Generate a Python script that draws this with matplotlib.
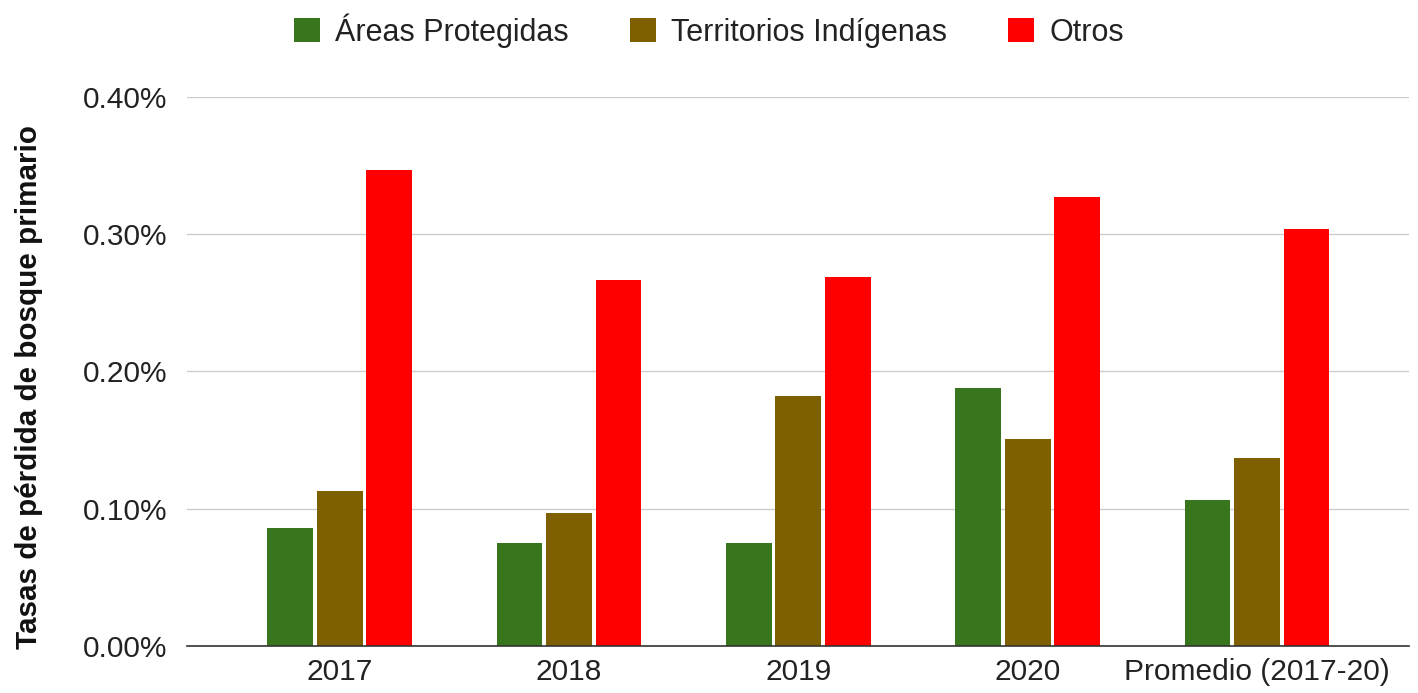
import numpy as np
import matplotlib.pyplot as plt
from matplotlib.ticker import FuncFormatter

plt.rcParams['font.family'] = ['Liberation Sans', 'DejaVu Sans']

# Datos (porcentaje de pérdida de bosque primario)
categorias = ["2017", "2018", "2019", "2020", "Promedio (2017-20)"]
areas_protegidas = [0.086, 0.075, 0.075, 0.188, 0.106]
territorios_indigenas = [0.113, 0.097, 0.182, 0.151, 0.137]
otros = [0.347, 0.267, 0.269, 0.327, 0.304]

series = [("Áreas Protegidas", areas_protegidas, "#38761d"),
          ("Territorios Indígenas", territorios_indigenas, "#7f6000"),
          ("Otros", otros, "#ff0000")]

fig = plt.figure(figsize=(14.18, 6.93), dpi=100)
ax = fig.add_axes([0.132, 0.068, 0.862, 0.792])

x = np.arange(len(categorias))
paso = 0.216
ancho = 0.2
for i, (nombre, vals, color) in enumerate(series):
    ax.bar(x + (i - 1) * paso, vals, ancho, color=color, label=nombre, zorder=3)

ax.set_xlim(-0.665, len(categorias) - 1 + 0.665)
ax.set_ylim(0, 0.40)
ax.set_yticks([0, 0.1, 0.2, 0.3, 0.4])
ax.yaxis.set_major_formatter(FuncFormatter(lambda v, p: f"{v:.2f}%"))
ax.set_xticks(x)
ax.set_xticklabels(categorias)
ax.tick_params(axis='both', length=0, labelsize=21.5, colors='#222222')
ax.tick_params(axis='y', pad=14)
ax.tick_params(axis='x', pad=9)

ax.grid(axis='y', color='#cccccc', linewidth=1, zorder=0)
for s in ['top', 'right', 'left']:
    ax.spines[s].set_visible(False)
ax.spines['bottom'].set_color('#333333')
ax.spines['bottom'].set_linewidth(1.2)
ax.spines['bottom'].set_zorder(4)

ax.set_ylabel("Tasas de pérdida de bosque primario", fontsize=21.3, fontweight='bold',
              color='#111111')
ax.yaxis.set_label_coords(-0.132 + 17 / 1418 / 0.862, (646 - 387) / 549)

fig.legend(loc='upper center', bbox_to_anchor=(0.5, 1.012), ncol=3, frameon=False,
           fontsize=22, handlelength=0.85, handleheight=0.85, columnspacing=2.0,
           handletextpad=0.5, labelcolor='#222222', borderaxespad=0.3)

plt.savefig("out.png")
